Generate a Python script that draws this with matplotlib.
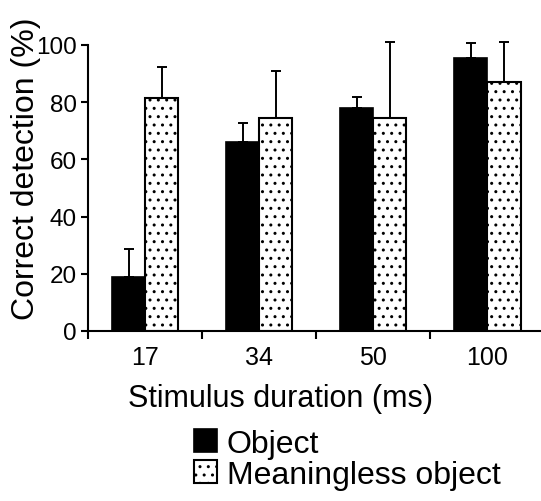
import numpy as np
import matplotlib
matplotlib.use("Agg")
import matplotlib.pyplot as plt

plt.rcParams['font.family'] = ['Liberation Sans', 'DejaVu Sans']
plt.rcParams['hatch.linewidth'] = 1.0

durations = ['17', '34', '50', '100']
object_mean = [19, 66, 78, 95.5]
object_err = [9.7, 6.7, 3.7, 5.2]
meaningless_mean = [81.5, 74.5, 74.6, 87.2]
meaningless_err = [10.9, 16.3, 26.4, 14.0]

x = np.arange(len(durations))
w = 0.29

fig = plt.figure(figsize=(5.41, 5.02), dpi=100)
ax = fig.add_axes([88/541, 1-332/502, 452/541, 286/502])

ax.bar(x - w/2, object_mean, w, color='black', edgecolor='black', lw=1.2,
       label='Object', zorder=2)
ax.bar(x + w/2, meaningless_mean, w, color='white', edgecolor='black', lw=1.5,
       hatch='..', label='Meaningless object', zorder=2)

ekw = dict(fmt='none', ecolor='black', elinewidth=1.4, capsize=3.5, capthick=1.4,
           zorder=3, clip_on=False)
ax.errorbar(x - w/2, object_mean, yerr=[np.zeros(4), object_err], **ekw)
ax.errorbar(x + w/2, meaningless_mean, yerr=[np.zeros(4), meaningless_err], **ekw)

ax.set_xlim(-0.5, 3.46)
ax.set_ylim(0, 100)
for s in ['top', 'right']:
    ax.spines[s].set_visible(False)
ax.spines['left'].set_linewidth(1.5)
ax.spines['bottom'].set_linewidth(1.5)

ax.set_yticks([0, 20, 40, 60, 80, 100])
ax.tick_params(axis='y', direction='out', length=5, width=1.5, pad=3, labelsize=17.5)

ax.set_xticks([-0.5, 0.5, 1.5, 2.5])
ax.set_xticklabels([])
ax.set_xticks(x, minor=True)
ax.set_xticklabels(durations, minor=True)
ax.tick_params(axis='x', which='major', direction='out', length=6, width=1.5)
ax.tick_params(axis='x', which='minor', length=0, pad=10, labelsize=18)

ax.set_xlabel('Stimulus duration (ms)', fontsize=22)
ax.xaxis.set_label_coords((280-88)/452, -52/286)
ax.set_ylabel('Correct detection (%)', fontsize=23)
ax.yaxis.set_label_coords(-0.105, 0.57)

fig.legend(loc='upper left', bbox_to_anchor=(194/541, 1-430/502), frameon=False,
           fontsize=23, handlelength=0.72, handleheight=0.72, handletextpad=0.3,
           labelspacing=0.02, borderpad=0, borderaxespad=0)

fig.savefig('out.png', dpi=100)
